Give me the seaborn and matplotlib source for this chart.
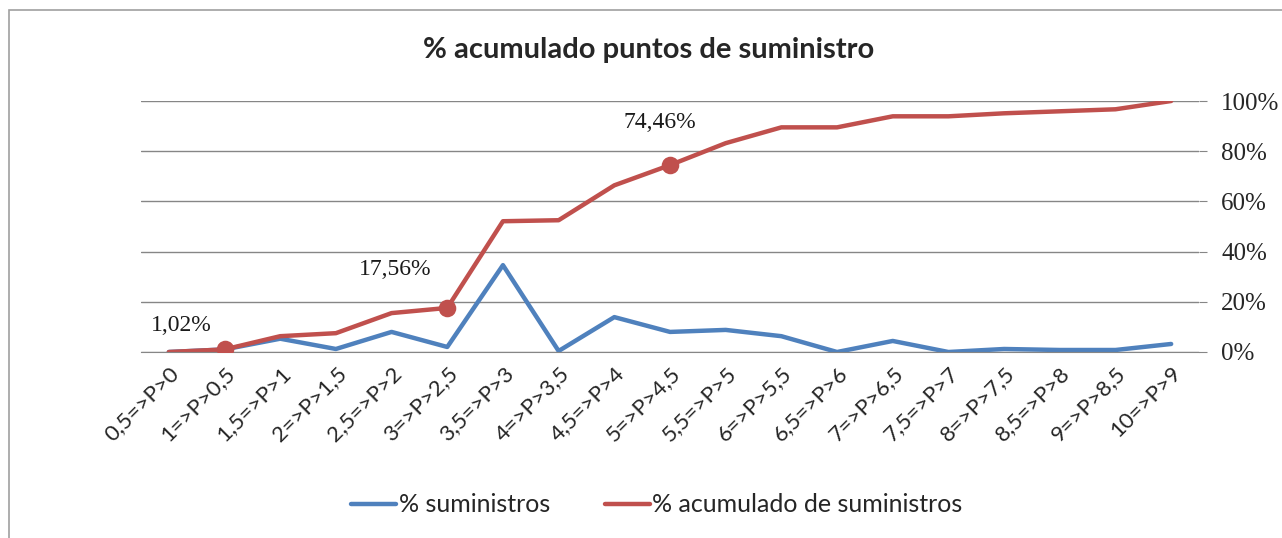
import numpy as np
import pandas as pd
import matplotlib
matplotlib.use("Agg")
import matplotlib.pyplot as plt
import seaborn as sns
from matplotlib.patches import Rectangle

# categorias del eje x
rangos = ["0,5=>P>0", "1=>P>0,5", "1,5=>P>1", "2=>P>1,5", "2,5=>P>2",
          "3=>P>2,5", "3,5=>P>3", "4=>P>3,5", "4,5=>P>4", "5=>P>4,5",
          "5,5=>P>5", "6=>P>5,5", "6,5=>P>6", "7=>P>6,5", "7,5=>P>7",
          "8=>P>7,5", "8,5=>P>8", "9=>P>8,5", "10=>P>9"]

# % suministros por rango
pct_suministros = [0.0, 1.02, 5.3, 1.2, 8.0, 2.0, 34.6, 0.4, 13.9, 8.0,
                   8.8, 6.3, 0.0, 4.4, 0.0, 1.2, 0.8, 0.8, 3.2]

# % acumulado
pct_acumulado = [0.0, 1.02, 6.3, 7.5, 15.5, 17.56, 52.1, 52.5, 66.4, 74.46,
                 83.2, 89.5, 89.5, 93.9, 93.9, 95.1, 95.9, 96.7, 100.0]

# puntos etiquetados
etiquetas = {1: "1,02%", 5: "17,56%", 9: "74,46%"}
offsets = {1: (-43, 24), 5: (-52, 38), 9: (-10, 43)}

azul = "#4F81BD"
rojo = "#C0504D"

df = pd.DataFrame({"rango": rangos,
                   "% suministros": pct_suministros,
                   "% acumulado de suministros": pct_acumulado})
df["x"] = np.arange(len(rangos))
largo = df.melt(id_vars=["rango", "x"], var_name="serie", value_name="pct")

sns.set_style("white")
plt.rcParams["font.family"] = ["Lato", "DejaVu Sans"]

fig = plt.figure(figsize=(12.82, 5.38), dpi=100)
ax = fig.add_axes([141 / 1282, 1 - 352 / 538, 1058 / 1282, 251 / 538])

sns.lineplot(data=largo, x="x", y="pct", hue="serie",
             palette=[azul, rojo], linewidth=3.2, ax=ax, legend=False)

# marcadores en los puntos etiquetados
idx = list(etiquetas.keys())
sns.scatterplot(x=df.loc[idx, "x"], y=df.loc[idx, "% acumulado de suministros"],
                color=rojo, s=160, edgecolor=rojo, linewidth=0, ax=ax,
                zorder=5, legend=False)
for i, txt in etiquetas.items():
    ax.annotate(txt, (df.loc[i, "x"], df.loc[i, "% acumulado de suministros"]),
                xytext=offsets[i], textcoords="offset pixels",
                ha="center", va="center", fontsize=17,
                family="Liberation Serif", color="#1a1a1a")

ax.set_xlim(-0.5, len(rangos) - 0.5)
ax.set_ylim(0, 100)
ax.set_yticks(np.arange(0, 101, 20))
ax.set_yticklabels([f"{v}%" for v in range(0, 101, 20)],
                   family="Liberation Serif", fontsize=18)
ax.yaxis.tick_right()
ax.tick_params(axis="y", right=True, length=6, color="#868686", pad=10)
ax.grid(axis="y", color="#868686", linewidth=1)
ax.set_axisbelow(True)

ax.set_xticks(df["x"])
ax.set_xticklabels(rangos, rotation=45, ha="right", rotation_mode="anchor",
                   fontsize=16)
ax.tick_params(axis="x", length=0, pad=8)
ax.set_xlabel("")
ax.set_ylabel("")
for s in ["top", "left", "right"]:
    ax.spines[s].set_visible(False)
ax.spines["bottom"].set_color("#868686")

fig.suptitle("% acumulado puntos de suministro", x=649 / 1282, y=1 - 50 / 538,
             va="center", fontsize=21, fontweight="bold")

handles = [plt.Line2D([], [], color=azul, lw=3.2),
           plt.Line2D([], [], color=rojo, lw=3.2)]
fig.legend(handles, ["% suministros", "% acumulado de suministros"],
           loc="center", bbox_to_anchor=(657 / 1282, 1 - 505 / 538), ncol=2,
           frameon=False, fontsize=18, handlelength=1.8, handletextpad=0.1,
           columnspacing=2.2)

fig.patches.append(Rectangle((9 / 1282, -0.1), 1.2, 1 - 10 / 538 + 0.1,
                             transform=fig.transFigure, fill=False,
                             edgecolor="#a0a0a0", linewidth=1.2))

plt.savefig("out.png", dpi=100)
